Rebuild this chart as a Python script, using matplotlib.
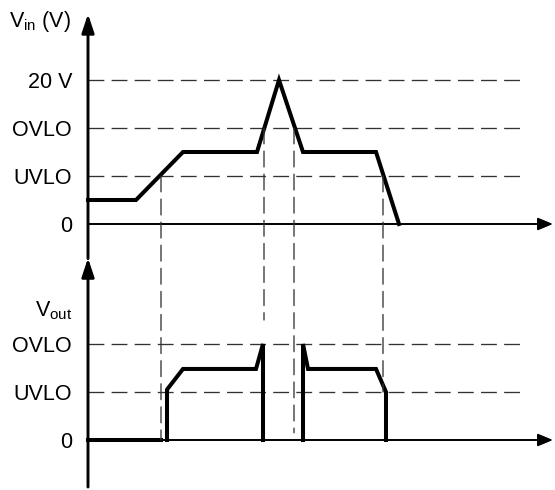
import numpy as np
import matplotlib
matplotlib.use("Agg")
import matplotlib.pyplot as plt
from matplotlib.patches import ConnectionPatch

plt.rcParams['font.family'] = ['Liberation Sans', 'DejaVu Sans']
plt.rcParams['mathtext.fontset'] = 'custom'
plt.rcParams['mathtext.rm'] = 'Liberation Sans'
plt.rcParams['mathtext.it'] = 'Liberation Sans:italic'

# levels (1 = UVLO, 2 = OVLO, 3 = 20 V), time in arbitrary units
vin_levels = [3, 2, 1, 0]
vin_labels = ['20 V', 'OVLO', 'UVLO', '0']
vout_levels = [2, 1, 0]
vout_labels = ['OVLO', 'UVLO', '0']

t_in = [0, 4.8, 9.5, 16.9, 19.1, 21.5, 28.8, 31.1]
v_in = [0.5, 0.5, 1.5, 1.5, 3.0, 1.5, 1.5, 0.0]

t_out = [0, 7.3, np.nan, 7.9, 7.9, 9.5, 16.8, 17.5, 17.5,
         np.nan, 21.5, 21.5, 22.0, 28.8, 29.8, 29.8]
v_out = [0, 0, np.nan, 0, 1.05, 1.48, 1.48, 2.0, 0,
         np.nan, 0, 2.0, 1.48, 1.48, 1.0, 0]

# event markers: time, level on Vin trace, end level on Vout panel
ev_t = [7.3, 17.6, 20.6, 29.5]
ev_top = [1, 2, 2, 1]
ev_bot = [0, 2.5, 0.15, 1.0]

W, H, DPI = 555, 490, 100
UNIT = 48.0          # px per level
X0 = 88              # px of time origin
XMAX = 46.7

fig = plt.figure(figsize=(W / DPI, H / DPI), dpi=DPI)


def make_axes(zero_px, ylo, yhi):
    top = zero_px - yhi * UNIT
    bot = zero_px - ylo * UNIT
    ax = fig.add_axes([X0 / W, 1 - bot / H, (W - X0) / W, (bot - top) / H])
    ax.set_xlim(0, XMAX)
    ax.set_ylim(ylo, yhi)
    ax.patch.set_visible(False)
    for s in ax.spines.values():
        s.set_visible(False)
    ax.set_xticks([])
    ax.tick_params(axis='y', length=0, pad=11.5, labelsize=15.5)
    return ax


ax1 = make_axes(224, -0.72, 4.6)
ax2 = make_axes(440, -1.0, 3.9)

ax1.set_yticks(vin_levels, vin_labels)
ax2.set_yticks(vout_levels, vout_labels)

dash = (0, (12, 5.5))
for ax, lv in ((ax1, vin_levels[:-1]), (ax2, vout_levels[:-1])):
    ax.hlines(lv, 0, 43.2, colors='#333333', lw=0.95, linestyles=[dash])

# axes with arrow heads
def arrow(ax, start, end, lw, hl, hw):
    ax.annotate('', xy=end, xytext=start, annotation_clip=False,
                arrowprops=dict(arrowstyle=f'-|>,head_length={hl},head_width={hw}',
                                lw=lw, color='black', shrinkA=0, shrinkB=0,
                                mutation_scale=15))

arrow(ax1, (0, -0.72), (0, 4.375), 2.1, 0.75, 0.25)
arrow(ax2, (0, -0.98), (0, 3.79), 2.1, 0.75, 0.25)
arrow(ax1, (0, 0), (46.5, 0), 1.4, 0.6, 0.25)
arrow(ax2, (0, 0), (46.5, 0), 1.4, 0.6, 0.25)

ax1.plot(t_in, v_in, color='black', lw=2.9, solid_joinstyle='miter',
         clip_on=False, zorder=3)
ax2.plot(t_out, v_out, color='black', lw=2.9, solid_joinstyle='miter',
         clip_on=False, zorder=3)

for t, a, b in zip(ev_t, ev_top, ev_bot):
    con = ConnectionPatch(xyA=(t, a), coordsA=ax1.transData,
                          xyB=(t, b), coordsB=ax2.transData,
                          color='#333333', lw=0.95, linestyle=dash)
    fig.add_artist(con)

ax1.annotate(r'V$_{\mathrm{in}}$ (V)', xy=(0, 4.21), xycoords='data',
             xytext=(-12, 0), textcoords='offset points',
             ha='right', va='center', fontsize=15.5, annotation_clip=False)
ax2.annotate(r'V$_{\mathrm{out}}$', xy=(0, 2.7), xycoords='data',
             xytext=(-11.5, 0), textcoords='offset points',
             ha='right', va='center', fontsize=15.5, annotation_clip=False)

fig.savefig('out.png', dpi=DPI)
